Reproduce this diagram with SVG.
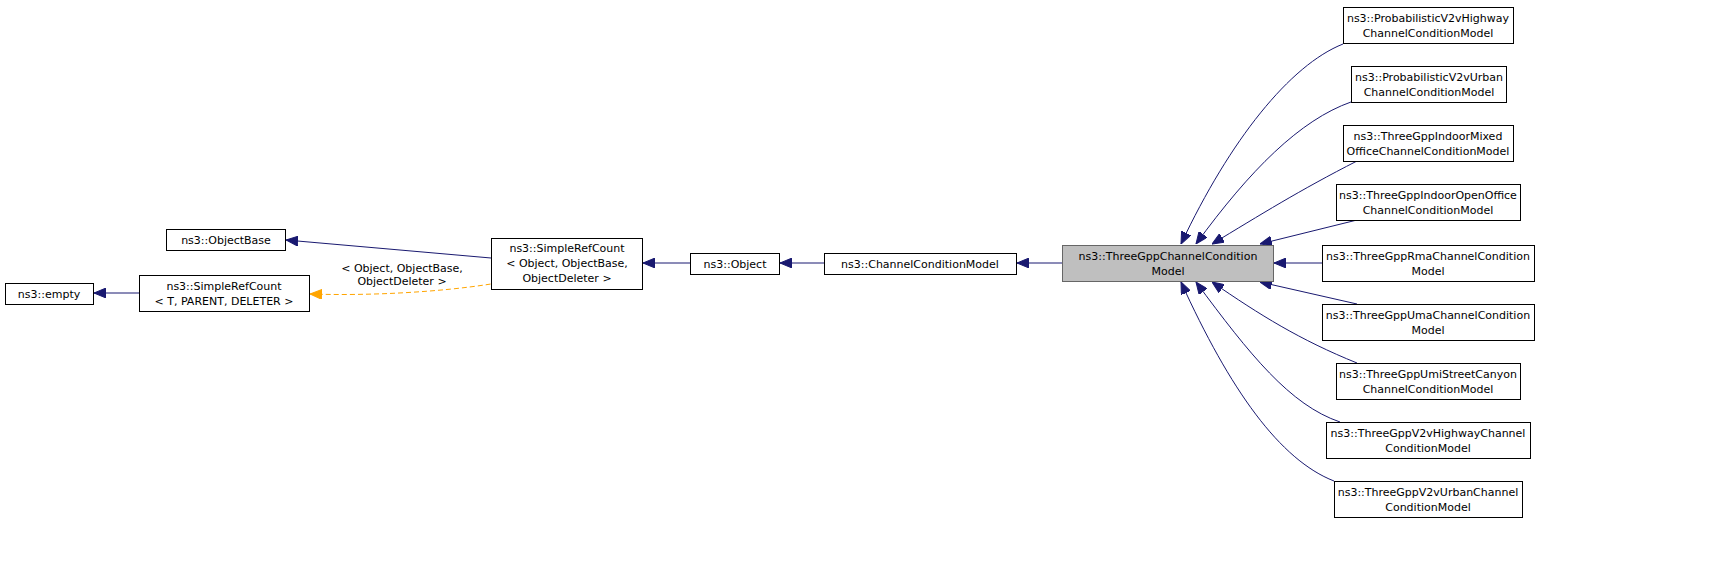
<svg xmlns="http://www.w3.org/2000/svg" width="1709" height="573" viewBox="0 0 1709 573">
<style>
.n rect{fill:#fff;stroke:#000;stroke-width:1}
.n.h rect{fill:#bfbfbf;stroke:#666}
text{font-family:"DejaVu Sans",sans-serif;font-size:11px;fill:#000;text-anchor:middle}
.e{fill:none;stroke:#191970;stroke-width:1;marker-start:url(#a)}
.d{fill:none;stroke:#ffa500;stroke-width:1;stroke-dasharray:5,3;marker-start:url(#o)}
</style>
<defs>
<marker id="a" viewBox="0 0 12 10" refX="12" refY="5" markerWidth="12" markerHeight="10" markerUnits="userSpaceOnUse" orient="auto-start-reverse"><path d="M0,0 L12,5 L0,10 Z" fill="#191970" stroke="#191970"/></marker>
<marker id="o" viewBox="0 0 12 10" refX="12" refY="5" markerWidth="12" markerHeight="10" markerUnits="userSpaceOnUse" orient="auto-start-reverse"><path d="M0,0 L12,5 L0,10 Z" fill="#ffa500" stroke="#ffa500"/></marker>
</defs>
<g id="edges">
<path class="e" d="M94,293 L139,293"/>
<path class="e" d="M286,240 L491,258"/>
<path class="d" d="M310,294 C370,296 440,292 491,284"/>
<text x="402" y="272">&lt; Object, ObjectBase,</text>
<text x="402" y="285">ObjectDeleter &gt;</text>
<path class="e" d="M643,263 L690,263"/>
<path class="e" d="M780,263 L824,263"/>
<path class="e" d="M1017,263 L1062,263"/>
<path class="e" d="M1181,244 C1230,140 1290,65 1343,44"/>
<path class="e" d="M1196,244 C1250,170 1300,120 1351,102"/>
<path class="e" d="M1212,244 C1260,215 1300,190 1357,161"/>
<path class="e" d="M1260,244 L1357,220"/>
<path class="e" d="M1274,263 L1322,263"/>
<path class="e" d="M1260,282 L1357,304"/>
<path class="e" d="M1212,282 C1260,315 1300,340 1357,363"/>
<path class="e" d="M1196,282 C1250,355 1290,405 1340,422"/>
<path class="e" d="M1181,282 C1230,390 1280,460 1334,481"/>
</g>
<g id="empty" class="n"><rect x="5.5" y="283.5" width="88" height="21"/><text x="49" y="298">ns3::empty</text></g>
<g id="srcT" class="n"><rect x="139.5" y="275.5" width="170" height="36"/><text x="224" y="290">ns3::SimpleRefCount</text><text x="224" y="305">&lt; T, PARENT, DELETER &gt;</text></g>
<g id="objectbase" class="n"><rect x="166.5" y="229.5" width="119" height="21"/><text x="226" y="244">ns3::ObjectBase</text></g>
<g id="srcObj" class="n"><rect x="491.5" y="238.5" width="151" height="51"/><text x="567" y="252">ns3::SimpleRefCount</text><text x="567" y="267">&lt; Object, ObjectBase,</text><text x="567" y="282">ObjectDeleter &gt;</text></g>
<g id="object" class="n"><rect x="690.5" y="253.5" width="89" height="21"/><text x="735" y="268">ns3::Object</text></g>
<g id="ccm" class="n"><rect x="824.5" y="253.5" width="192" height="21"/><text x="920" y="268">ns3::ChannelConditionModel</text></g>
<g id="tgpp" class="n h"><rect x="1062.5" y="245.5" width="211" height="36"/><text x="1168" y="260">ns3::ThreeGppChannelCondition</text><text x="1168" y="275">Model</text></g>
<g id="c1" class="n"><rect x="1343.5" y="7.5" width="170" height="36"/><text x="1428" y="22">ns3::ProbabilisticV2vHighway</text><text x="1428" y="37">ChannelConditionModel</text></g>
<g id="c2" class="n"><rect x="1351.5" y="66.5" width="155" height="36"/><text x="1429" y="81">ns3::ProbabilisticV2vUrban</text><text x="1429" y="96">ChannelConditionModel</text></g>
<g id="c3" class="n"><rect x="1343.5" y="125.5" width="170" height="36"/><text x="1428" y="140">ns3::ThreeGppIndoorMixed</text><text x="1428" y="155">OfficeChannelConditionModel</text></g>
<g id="c4" class="n"><rect x="1336.5" y="184.5" width="184" height="36"/><text x="1428" y="199">ns3::ThreeGppIndoorOpenOffice</text><text x="1428" y="214">ChannelConditionModel</text></g>
<g id="c5" class="n"><rect x="1322.5" y="245.5" width="212" height="36"/><text x="1428" y="260">ns3::ThreeGppRmaChannelCondition</text><text x="1428" y="275">Model</text></g>
<g id="c6" class="n"><rect x="1322.5" y="304.5" width="212" height="36"/><text x="1428" y="319">ns3::ThreeGppUmaChannelCondition</text><text x="1428" y="334">Model</text></g>
<g id="c7" class="n"><rect x="1336.5" y="363.5" width="184" height="36"/><text x="1428" y="378">ns3::ThreeGppUmiStreetCanyon</text><text x="1428" y="393">ChannelConditionModel</text></g>
<g id="c8" class="n"><rect x="1326.5" y="422.5" width="204" height="36"/><text x="1428" y="437">ns3::ThreeGppV2vHighwayChannel</text><text x="1428" y="452">ConditionModel</text></g>
<g id="c9" class="n"><rect x="1334.5" y="481.5" width="188" height="36"/><text x="1428" y="496">ns3::ThreeGppV2vUrbanChannel</text><text x="1428" y="511">ConditionModel</text></g>
</svg>
